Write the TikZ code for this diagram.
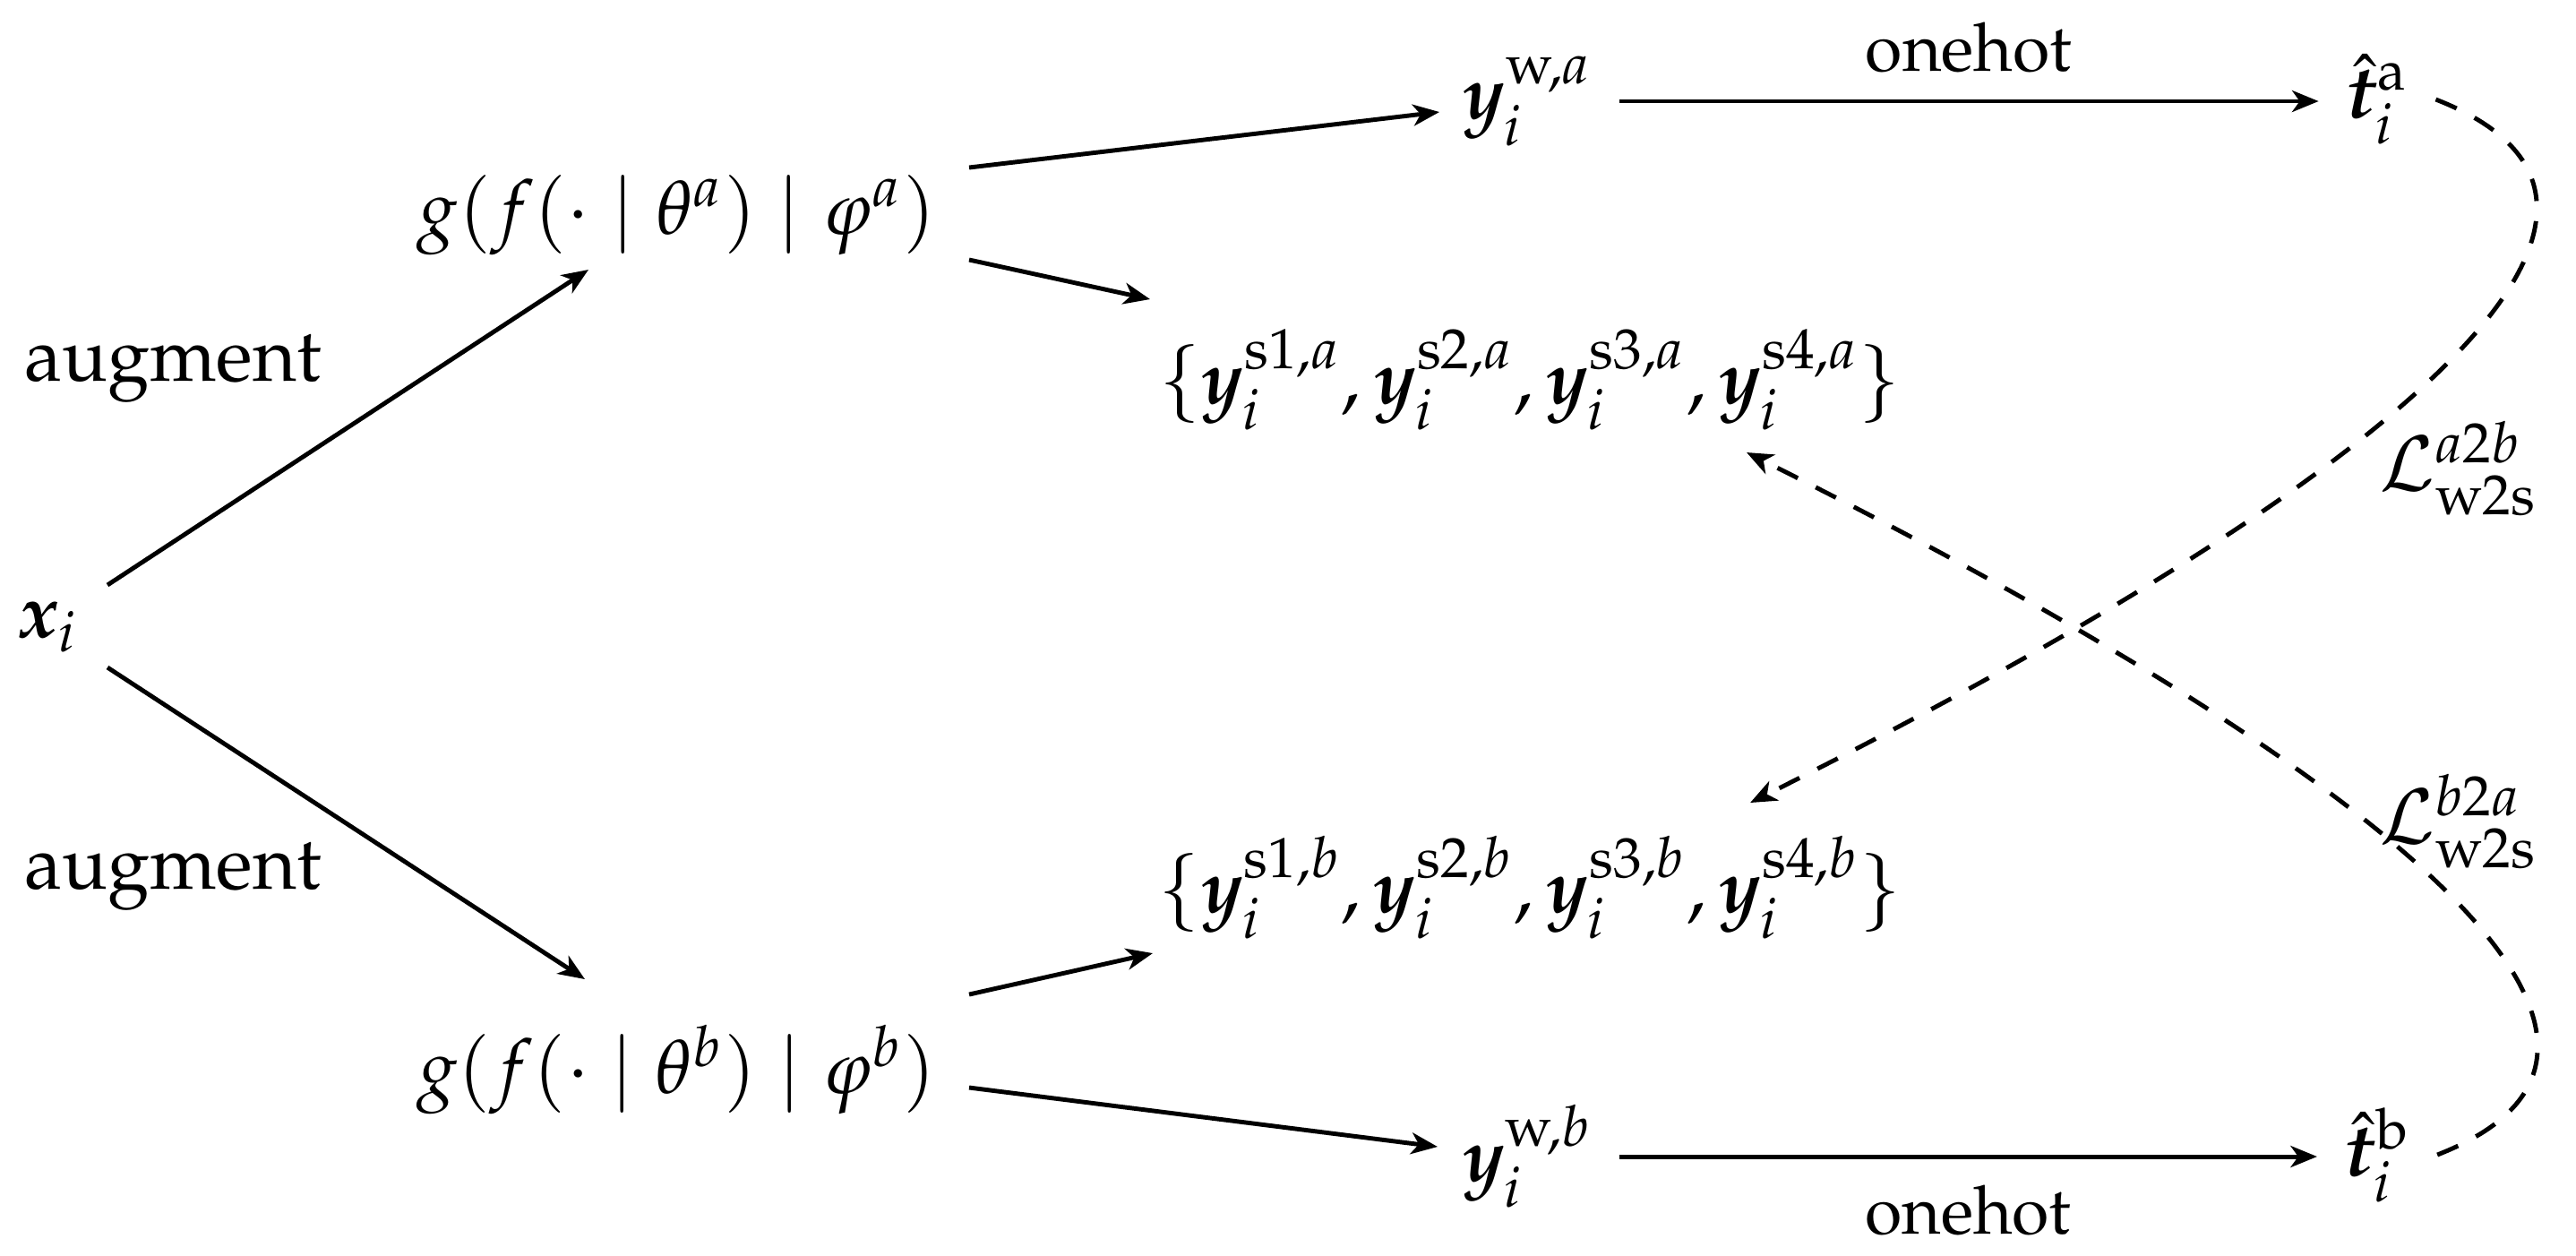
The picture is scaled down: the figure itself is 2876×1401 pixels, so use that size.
\documentclass[tikz,border=0pt]{standalone}
\usepackage[T1]{fontenc}
\usepackage{mathpazo}
\usepackage{amsmath}
\usepackage{bm}
\usetikzlibrary{arrows.meta,calc}
\tikzset{
  lbl/.style={inner sep=0pt,font=\fontsize{12}{14.4}\selectfont},
  mnode/.style={inner sep=4pt,font=\fontsize{12}{14.4}\selectfont},
  edgelbl/.style={font=\fontsize{10.7}{12.8}\selectfont,inner sep=4.2pt},
  arr/.style={line width=0.7pt,-{Stealth[length=4.2pt,width=3.4pt,inset=1.2pt]}},
  dasharr/.style={arr,dash pattern=on 3.6pt off 3.2pt}
}
\begin{document}
\begin{tikzpicture}[x=0.05mm,y=-0.05mm]
\useasboundingbox (0,0) rectangle (2876,1401);
% nodes
\node[mnode] (xi) at (54,700) {$\bm{x}_i$};
\node[lbl,anchor=base] (aug1) at (193,425) {augment};
\node[lbl,anchor=base] (aug2) at (193,992) {augment};
\node[mnode] (ga) at (755,240) {$g(f(\cdot\mid\theta^a)\mid\varphi^a)$};
\node[mnode] (gb) at (755,1194) {$g(f(\cdot\mid\theta^b)\mid\varphi^b)$};
\node[mnode] (ywa) at (1705,113) {$\bm{y}_i^{\mathrm{w},a}$};
\node[mnode] (ywb) at (1705,1291) {$\bm{y}_i^{\mathrm{w},b}$};
\node[mnode] (ta) at (2654,111) {$\hat{\bm{t}}_i^{\mathrm{a}}$};
\node[mnode] (tb) at (2654,1289) {$\hat{\bm{t}}_i^{\mathrm{b}}$};
\node[mnode] (sa) at (1708,424) {$\{\bm{y}_i^{\mathrm{s1},a},\bm{y}_i^{\mathrm{s2},a},\bm{y}_i^{\mathrm{s3},a},\bm{y}_i^{\mathrm{s4},a}\}$};
\node[mnode] (sb) at (1708,991) {$\{\bm{y}_i^{\mathrm{s1},b},\bm{y}_i^{\mathrm{s2},b},\bm{y}_i^{\mathrm{s3},b},\bm{y}_i^{\mathrm{s4},b}\}$};
\node[lbl] (La) at (2745,523) {$\mathcal{L}_{\mathrm{w2s}}^{a2b}$};
\node[lbl] (Lb) at (2745,917) {$\mathcal{L}_{\mathrm{w2s}}^{b2a}$};
% connectors
\draw[arr] ($(xi)+(66,-47)$) -- ($(ga)+(-98,61)$);
\draw[arr] ($(xi)+(66,45)$) -- ($(gb)+(-102,-101)$);
\draw[arr] ($(ga)+(327,-53)$) -- ($(ywa)+(-98,12)$);
\draw[arr] ($(ga)+(327,50)$) -- ($(sa)+(-424,-90)$);
\draw[arr] ($(gb)+(327,-84)$) -- ($(sb)+(-421,73)$);
\draw[arr] ($(gb)+(327,20)$) -- ($(ywb)+(-100,-11)$);
\draw[arr] (ywa.east) -- node[edgelbl,above] (oha) {onehot} (ywa.east -| ta.west);
\draw[arr] (ywb.east) -- node[edgelbl,below] (ohb) {onehot} (ywb.east -| tb.west);
\draw[dasharr] (ta.east) .. controls +(320,125) and +(690,-345) .. ($(sb)+(246,-95)$);
\draw[dasharr] (tb.east) .. controls +(320,-125) and +(690,345) .. ($(sa)+(242,81)$);
\end{tikzpicture}
\end{document}
